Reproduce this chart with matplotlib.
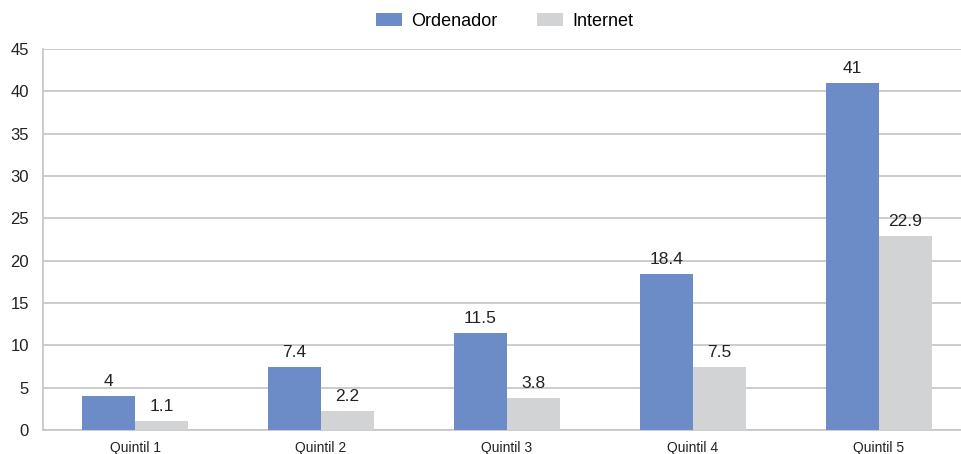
import matplotlib
matplotlib.use("Agg")
import matplotlib.pyplot as plt
import numpy as np

categories = ["Quintil 1", "Quintil 2", "Quintil 3", "Quintil 4", "Quintil 5"]
ordenador = [4, 7.4, 11.5, 18.4, 41]
internet = [1.1, 2.2, 3.8, 7.5, 22.9]
ordenador_labels = ["4", "7.4", "11.5", "18.4", "41"]
internet_labels = ["1.1", "2.2", "3.8", "7.5", "22.9"]
yticks = [0, 5, 10, 15, 20, 25, 30, 35, 40, 45]

plt.rcParams['font.family'] = ['Liberation Sans', 'DejaVu Sans']

fig = plt.figure(figsize=(9.62, 4.54), dpi=100)
ax = fig.add_axes([43/962, 24/454, 1 - 43/962, (430-49)/454])

x = np.arange(len(categories))
w = 0.285
blue = "#6b8cc7"
gray = "#d2d3d5"
b1 = ax.bar(x - w/2, ordenador, w, color=blue, label="Ordenador", zorder=3)
b2 = ax.bar(x + w/2, internet, w, color=gray, label="Internet", zorder=3)

for rect, lab in zip(b1, ordenador_labels):
    ax.annotate(lab, (rect.get_x() + rect.get_width()/2, rect.get_height()),
                xytext=(0, 5), textcoords="offset points", ha="center", va="bottom",
                fontsize=12.5, color="#222222")
for rect, lab in zip(b2, internet_labels):
    ax.annotate(lab, (rect.get_x() + rect.get_width()/2, rect.get_height()),
                xytext=(0, 5), textcoords="offset points", ha="center", va="bottom",
                fontsize=12.5, color="#222222")

ax.set_xlim(-0.495, 4.446)
ax.set_ylim(0, 45)
ax.set_yticks(yticks)
ax.set_xticks(x)
ax.set_xticklabels(categories, fontsize=10)
ax.tick_params(axis='y', labelsize=12, length=0, pad=10, colors="#222222")
ax.tick_params(axis='x', length=0, pad=8, colors="#222222")
ax.yaxis.grid(True, color="#c4c4c4", linewidth=1.2, zorder=0)
for s in ["top", "right"]:
    ax.spines[s].set_visible(False)
ax.spines["left"].set_color("#c4c4c4")
ax.spines["left"].set_linewidth(1.2)
ax.spines["bottom"].set_color("#c4c4c4")
ax.spines["bottom"].set_linewidth(1.2)

fig.legend(handles=[b1, b2], labels=["Ordenador", "Internet"], loc="center",
           bbox_to_anchor=(505/962, 1 - 21/454), ncol=2, frameon=False,
           fontsize=13, handlelength=1.4, handleheight=0.72, columnspacing=2.2,
           handletextpad=0.55)

fig.savefig("out.png", dpi=100)
